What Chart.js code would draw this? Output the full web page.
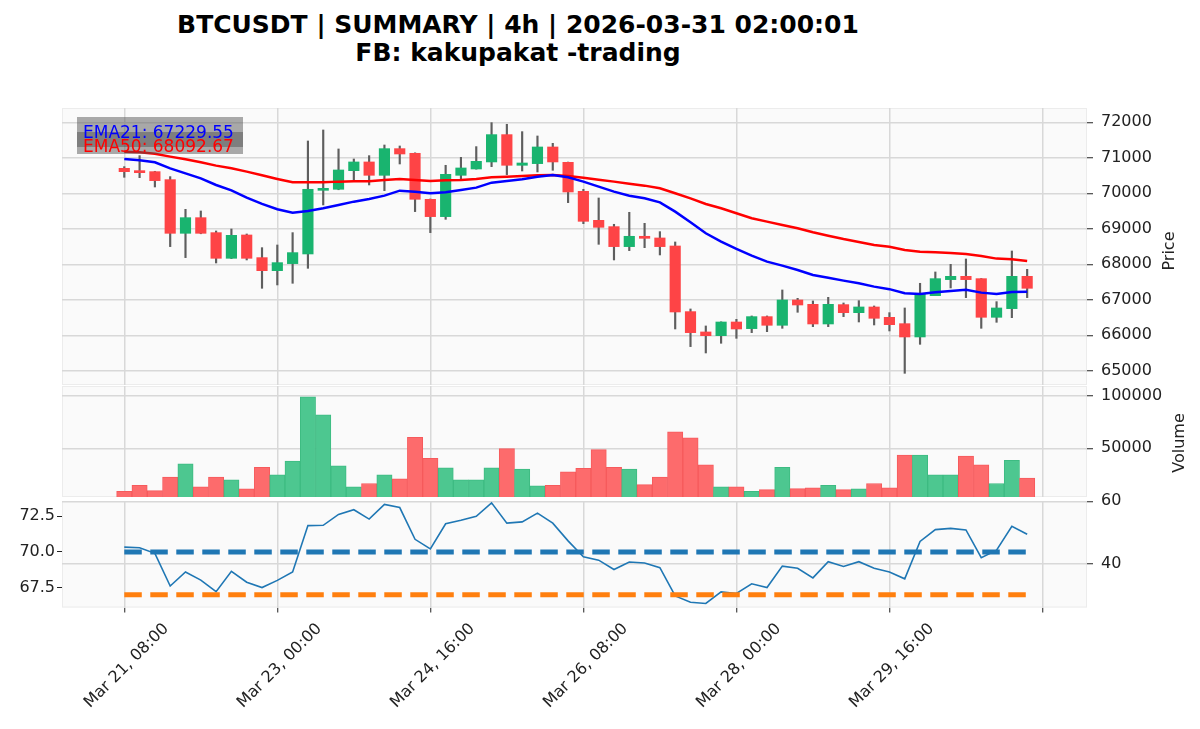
<!DOCTYPE html>
<html>
<head>
<meta charset="utf-8">
<script src="https://cdn.jsdelivr.net/npm/chart.js@4.4.1/dist/chart.umd.min.js"></script>
<style>
  body { margin: 0; background: #fff; font-family: 'DejaVu Sans', sans-serif; }
  #wrap { position: relative; width: 1200px; height: 729px; overflow: hidden; }
  canvas { position: absolute; left: 0; }
  .ttl { position: absolute; left: 18px; width: 1000px; text-align: center; font-weight: bold; font-size: 25px; line-height: 28px; color: #000; white-space: nowrap; }
  .box { position: absolute; left: 77px; width: 166px; background: rgba(80, 80, 80, 0.48); }
  .lg { position: absolute; left: 83px; font-size: 17px; line-height: 20px; white-space: nowrap; }
  .ax { position: absolute; width: 100px; height: 16px; line-height: 16px; font-size: 16px; text-align: center; color: #222; transform: rotate(-90deg); }
</style>
</head>
<body>
<div id="wrap">
  <canvas id="pricePanel" width="1200" height="317" style="top:88px"></canvas>
  <canvas id="volPanel" width="1200" height="151" style="top:366px"></canvas>
  <canvas id="rsiPanel" width="1200" height="248" style="top:481px"></canvas>

  <div class="ttl" style="top:11px">BTCUSDT | SUMMARY | 4h | 2026-03-31 02:00:01</div>
  <div class="ttl" style="top:39px">FB: kakupakat -trading</div>

  <div class="box" style="top:117px;height:30px"></div>
  <div class="box" style="top:132px;height:22px"></div>
  <div class="lg" style="top:122px;color:#0000ff">EMA21: 67229.55</div>
  <div class="lg" style="top:136px;color:#ff0000">EMA50: 68092.67</div>

  <div class="ax" style="left:1119px;top:243px">Price</div>
  <div class="ax" style="left:1129px;top:435px">Volume</div>
</div>

<script>
// 4h candles, Mar 21 08:00 -> Mar 31 00:00 (index 0..59)
var opens  = [70704,70638,70610,70385,68873,69314,68892,68169,68826,68188,
              67821,68019,68291,70084,70113,70638,70883,70507,71258,71127,
              69831,69343,70507,70685,70883,71653,70789,70836,71305,70873,
              70056,69239,69061,68498,68789,68742,68516,66667,66094,65990,
              66375,66188,66526,66282,66995,66873,66319,66864,66638,66798,
              66507,66328,65953,67117,67568,67662,67596,66507,66751,67662];
var highs  = [70751,71061,70620,70470,69549,69502,68939,68995,68854,68469,
              68544,68892,71474,71784,71249,70967,71061,71361,71333,71140,
              69840,70789,71014,71315,71991,71944,71737,71615,71408,70880,
              70113,69868,69127,69465,69155,68920,68629,66742,66263,66380,
              66450,66545,66545,67277,67042,66967,67070,66911,66976,66826,
              66638,66770,67465,67784,68000,68150,67600,66948,68375,67859];
var lows   = [70451,70441,70178,68498,68188,68860,68037,68160,68122,67324,
              67418,67465,67887,69671,70100,70347,70235,70075,70826,69484,
              68892,69267,70366,70680,70751,70526,70629,70601,70648,69737,
              69145,68563,68122,68385,68469,68263,66178,65681,65502,65775,
              65915,66075,66103,66197,66648,66244,66244,66526,66375,66291,
              66122,64929,65746,67117,67333,67061,66197,66366,66497,67061];
var closes = [70610,70582,70357,68873,69314,68873,68169,68817,68169,67821,
              68047,68329,70113,70131,70657,70883,70507,71258,71108,69831,
              69343,70535,70714,70901,71653,70789,70854,71305,70883,70037,
              69211,69042,68498,68789,68732,68498,66657,66075,65990,66375,
              66178,66526,66282,66995,66854,66319,66873,66638,66798,66479,
              66300,65953,67155,67596,67662,67568,66507,66770,67662,67324];

var ema21 = [70967,70930,70873,70704,70563,70422,70235,70084,69878,69700,
             69550,69455,69502,69577,69671,69765,69840,69934,70075,70047,
             70000,70028,70094,70160,70300,70347,70394,70469,70516,70451,
             70329,70188,70047,69930,69859,69746,69483,69183,68873,68638,
             68432,68244,68075,67962,67840,67699,67624,67540,67465,67371,
             67300,67183,67164,67211,67249,67286,67202,67164,67220,67230];
var ema50 = [71174,71155,71117,71033,70958,70873,70780,70704,70610,70507,
             70404,70310,70310,70310,70329,70338,70338,70376,70404,70376,
             70347,70366,70376,70404,70451,70469,70488,70507,70516,70488,
             70441,70385,70329,70268,70216,70141,70000,69859,69700,69577,
             69437,69296,69202,69108,69014,68901,68807,68713,68629,68544,
             68495,68404,68357,68338,68319,68291,68235,68160,68141,68093];

var volumes = [8978,14747,9619,22439,35259,13145,22439,19875,11222,31734,
               24683,37823,99039,82052,33334,13145,16350,24683,20837,60579,
               40387,31413,19875,19875,31413,49682,30131,14106,14747,27567,
               30772,48720,31734,30131,15388,22439,65707,59938,34298,13145,
               13145,8978,10580,31734,11542,12183,14747,10580,11222,16350,
               12183,43591,43591,24683,24683,42630,34298,16350,38464,21478];

var rsi = [45.3,45.1,43.3,32.8,37.3,34.7,31.0,37.5,34.0,32.3,
           34.6,37.3,52.2,52.3,55.8,57.3,54.3,59.0,58.0,47.8,
           44.7,52.8,53.9,55.2,59.5,53.0,53.4,56.2,53.0,47.3,
           42.2,41.1,38.1,40.5,40.2,38.7,29.6,27.6,27.2,30.9,
           30.4,33.5,32.3,39.2,38.5,35.4,40.6,39.1,40.6,38.5,
           37.3,35.1,47.1,50.9,51.3,50.8,41.9,44.3,52.0,49.4];
var rsiHigh = [70, 70];   // drawn against the left scale
var rsiLow = [30, 30];

var tickIdx = [0, 10, 20, 30, 40, 50, 60];
var tickLabels = ['Mar 21, 08:00', 'Mar 23, 00:00', 'Mar 24, 16:00', 'Mar 26, 08:00', 'Mar 28, 00:00', 'Mar 29, 16:00', ''];
var priceTicks = [65000, 66000, 67000, 68000, 69000, 70000, 71000, 72000];
var volTicks = [50000, 100000];
var rsiTicks = [40, 60];
var rsiLeftTicks = [67.5, 70, 72.5];

Chart.defaults.font.family = 'DejaVu Sans';
Chart.defaults.font.size = 16;
Chart.defaults.color = '#222';

var gridColor = '#d8d8d8';
var upCol = '#19b46f', downCol = '#fe4446';
var volUp = '#4dc790', volDown = '#fd6b6c';

var bgPlugin = {
  id: 'panelBg',
  beforeDraw: function(chart) {
    var a = chart.chartArea, c = chart.ctx;
    c.save();
    c.fillStyle = '#fafafa';
    c.fillRect(a.left, a.top, a.right - a.left, a.bottom - a.top);
    c.strokeStyle = '#ececec';
    c.lineWidth = 1;
    c.strokeRect(a.left + 0.5, a.top + 0.5, a.right - a.left - 1, a.bottom - a.top - 1);
    c.restore();
  }
};

function idxData(arr) {
  return arr.map(function(v, i) { return {x: i, y: v}; });
}

function xScale(withLabels) {
  return {
    type: 'linear', min: -4.07, max: 62.91, offset: false,
    afterBuildTicks: function(s) { s.ticks = tickIdx.map(function(v) { return {value: v}; }); },
    afterFit: withLabels ? function(s) { s.height = 121.5; } : undefined,
    grid: {offset: false, color: gridColor, lineWidth: 1.5, drawTicks: withLabels, tickLength: 5, tickColor: '#222', tickWidth: 1},
    border: {display: false},
    ticks: {
      display: withLabels, autoSkip: false, minRotation: 45, maxRotation: 45,
      labelOffset: 42, padding: 7, color: '#222',
      callback: function(v, i) { return tickLabels[i]; }
    }
  };
}

function rightScale(ticksArr, mn, mx) {
  return {
    position: 'right', min: mn, max: mx, beginAtZero: false,
    afterBuildTicks: function(s) { s.ticks = ticksArr.map(function(v) { return {value: v}; }); },
    afterFit: function(s) { s.width = 113; },
    grid: {color: gridColor, lineWidth: 1.5, tickLength: 6, tickColor: '#222', tickWidth: 1},
    border: {display: false},
    ticks: {padding: 8, color: '#222', callback: function(v) { return String(v); }}
  };
}

var baseOpts = {
  responsive: false, animation: false, events: [],
  plugins: {legend: {display: false}, tooltip: {enabled: false}, title: {display: false}}
};

// ---- price panel
var upDown = closes.map(function(c, i) { return c >= opens[i]; });
var wickData = lows.map(function(l, i) { return {x: i, y: [l, highs[i]]}; });
var bodyData = opens.map(function(o, i) { return {x: i, y: [o, closes[i]]}; });

new Chart(document.getElementById('pricePanel'), {
  type: 'bar',
  data: {
    datasets: [
      {type: 'line', data: idxData(ema21), borderColor: '#0000ff', borderWidth: 2.5, pointRadius: 0, order: 0},
      {type: 'line', data: idxData(ema50), borderColor: '#ff0000', borderWidth: 2.5, pointRadius: 0, order: 0},
      {data: bodyData, grouped: false, barThickness: 10.5, minBarLength: 2, order: 1,
        backgroundColor: upDown.map(function(u) { return u ? upCol : downCol; })},
      {data: wickData, grouped: false, barThickness: 1.5, order: 2, backgroundColor: '#5e5e5e'}
    ]
  },
  options: Object.assign({}, baseOpts, {
    layout: {padding: {left: 62, right: 0, top: 20, bottom: 20}},
    scales: {
      x: xScale(false),
      y: rightScale(priceTicks, 64600, 72403)
    }
  }),
  plugins: [bgPlugin]
});

// ---- volume panel
new Chart(document.getElementById('volPanel'), {
  type: 'bar',
  data: {
    datasets: [{
      data: idxData(volumes), barThickness: 15.3, borderWidth: 1,
      backgroundColor: upDown.map(function(u) { return u ? volUp : volDown; }),
      borderColor: upDown.map(function(u) { return u ? '#3dbb82' : '#f65a5c'; })
    }]
  },
  options: Object.assign({}, baseOpts, {
    layout: {padding: {left: 62, right: 0, top: 20, bottom: 20}},
    scales: {
      x: xScale(false),
      y: rightScale(volTicks, 3500, 109500)
    }
  }),
  plugins: [bgPlugin]
});

// ---- rsi panel
var rsiRight = rightScale(rsiTicks, 25.9, 60.1);
new Chart(document.getElementById('rsiPanel'), {
  type: 'line',
  data: {
    datasets: [
      {data: [{x: 0, y: rsiHigh[0]}, {x: 59, y: rsiHigh[1]}], yAxisID: 'yL', borderColor: '#1f77b4', borderWidth: 5,
        borderDash: [17.5, 8.5], pointRadius: 0, order: 0},
      {data: [{x: 0, y: rsiLow[0]}, {x: 59, y: rsiLow[1]}], yAxisID: 'yR', borderColor: '#ff7f0e', borderWidth: 5,
        borderDash: [17.5, 8.5], pointRadius: 0, order: 0},
      {data: idxData(rsi), yAxisID: 'yR', borderColor: '#1f77b4', borderWidth: 1.6, pointRadius: 0, order: 1}
    ]
  },
  options: Object.assign({}, baseOpts, {
    layout: {padding: {left: 0, right: 0, top: 20, bottom: 0}},
    scales: {
      x: xScale(true),
      yL: {
        position: 'left', min: 66.12, max: 73.56,
        afterBuildTicks: function(s) { s.ticks = rsiLeftTicks.map(function(v) { return {value: v}; }); },
        afterFit: function(s) { s.width = 62; },
        grid: {drawOnChartArea: false, tickLength: 5, tickColor: '#222', tickWidth: 1},
        border: {display: false},
        ticks: {padding: 2, color: '#222', callback: function(v) { return v.toFixed(1); }}
      },
      yR: rsiRight
    }
  }),
  plugins: [bgPlugin]
});
</script>
</body>
</html>
